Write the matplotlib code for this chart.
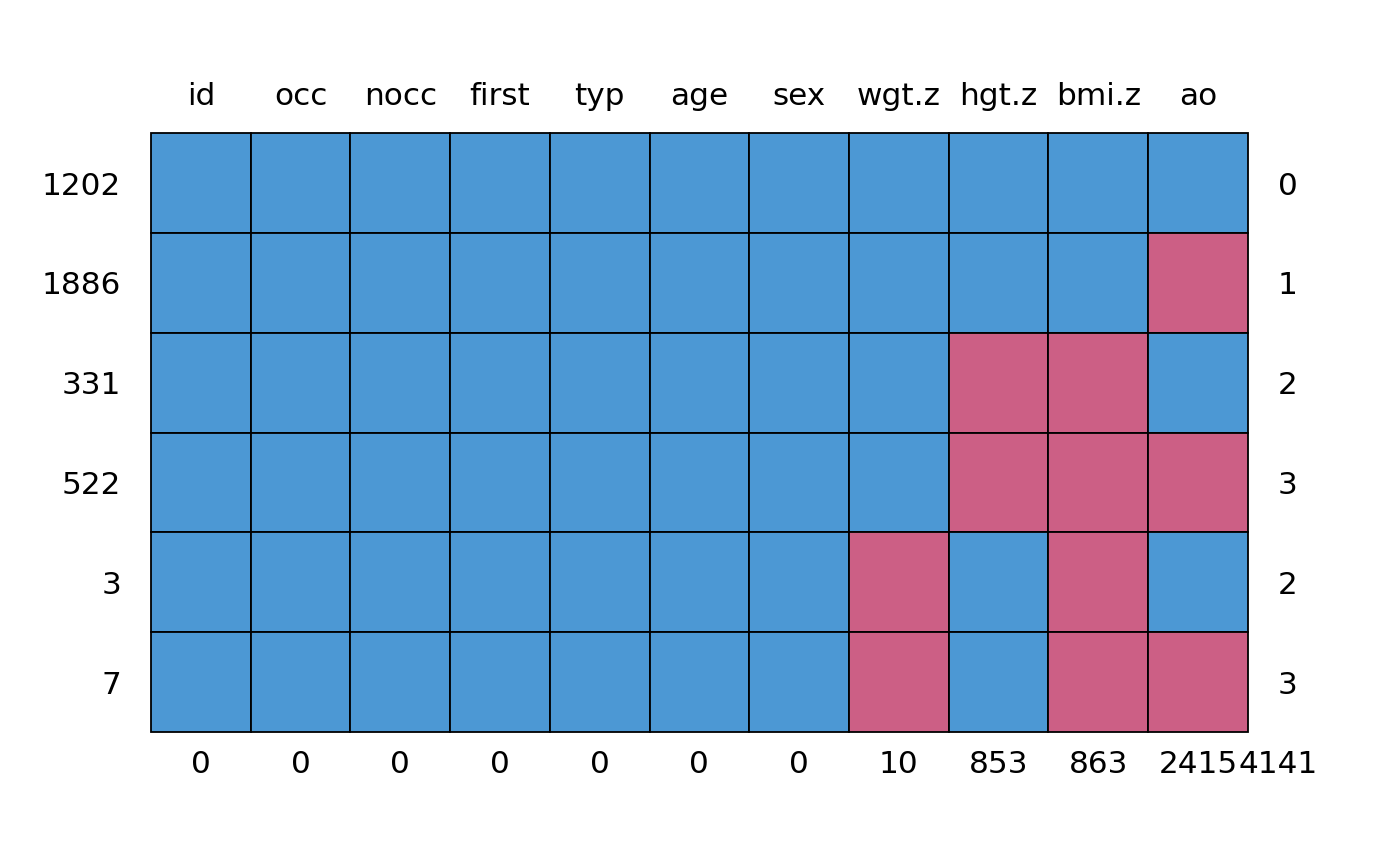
import numpy as np
import matplotlib.pyplot as plt

# missing-data pattern (1 = observed, 0 = missing)
variables = ["id", "occ", "nocc", "first", "typ", "age", "sex", "wgt.z", "hgt.z", "bmi.z", "ao"]
pattern_counts = ["1202", "1886", "331", "522", "3", "7"]
patterns = [
    [1, 1, 1, 1, 1, 1, 1, 1, 1, 1, 1],
    [1, 1, 1, 1, 1, 1, 1, 1, 1, 1, 0],
    [1, 1, 1, 1, 1, 1, 1, 1, 0, 0, 1],
    [1, 1, 1, 1, 1, 1, 1, 1, 0, 0, 0],
    [1, 1, 1, 1, 1, 1, 1, 0, 1, 0, 1],
    [1, 1, 1, 1, 1, 1, 1, 0, 1, 0, 0],
]
n_missing_row = [0, 1, 2, 3, 2, 3]
n_missing_col = [0, 0, 0, 0, 0, 0, 0, 10, 853, 863, 2415]
total_missing = 4141

OBS_COLOR = "#4C98D4"
MIS_COLOR = "#CC5F85"
FS = 22.4

R = np.array(patterns)
nrow, ncol = R.shape

fig = plt.figure(figsize=(14, 8.66), dpi=100)
ax = fig.add_axes([0, 0, 1, 1])
ax.set_xlim(-1.5145, 12.527)
ax.set_ylim(-1.3427, 7.335)
ax.axis("off")

for i in range(nrow):
    y = nrow - 1 - i
    for j in range(ncol):
        color = OBS_COLOR if R[i, j] == 1 else MIS_COLOR
        ax.add_patch(plt.Rectangle((j, y), 1, 1, facecolor=color,
                                   edgecolor="black", linewidth=1.3))
    ax.text(-0.3, y + 0.5, pattern_counts[i], ha="right", va="center_baseline", fontsize=FS)
    ax.text(ncol + 0.3, y + 0.5, str(n_missing_row[i]), ha="left", va="center_baseline", fontsize=FS)

for j in range(ncol):
    ax.text(j + 0.5, nrow + 0.28, variables[j], ha="center", va="baseline", fontsize=FS)
    ax.text(j + 0.5, -0.3, str(n_missing_col[j]), ha="center", va="center_baseline", fontsize=FS)

ax.text(ncol + 0.3, -0.3, str(total_missing), ha="center", va="center_baseline", fontsize=FS)

fig.savefig("out.png", dpi=100, facecolor="white")
